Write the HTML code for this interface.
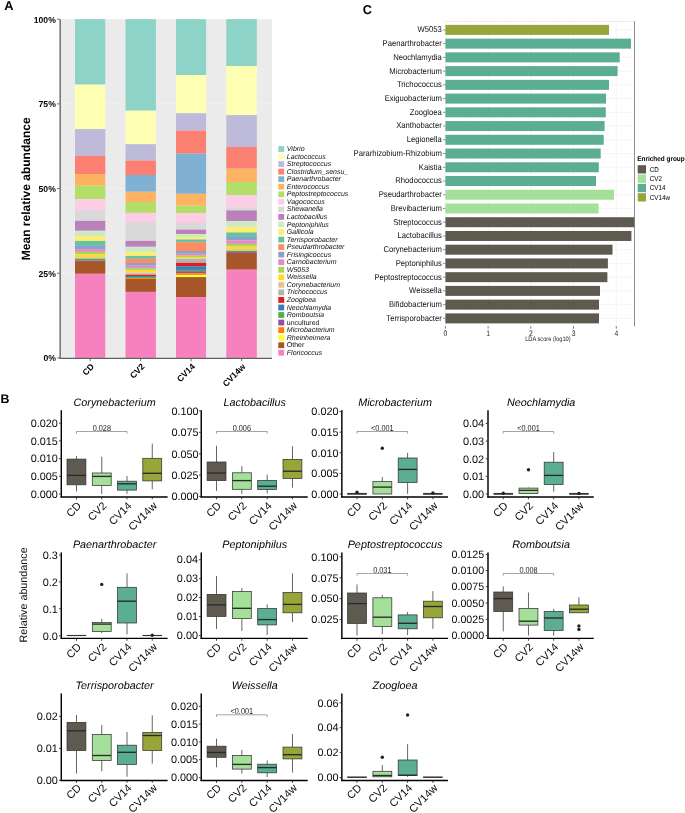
<!DOCTYPE html>
<html lang="en">
<head>
<meta charset="utf-8">
<title>Figure</title>
<style>
html,body{margin:0;padding:0;background:#fff;}
body{width:685px;height:813px;overflow:hidden;font-family:"Liberation Sans", sans-serif;}
svg{display:block;}
text{text-rendering:geometricPrecision;}
</style>
</head>
<body>
<svg width="685" height="813" viewBox="0 0 685 813">
<rect x="0" y="0" width="685" height="813" fill="#FFFFFF"/>
<g id="panelA">
<rect x="60.6" y="19.2" width="211.4" height="338.7" fill="#EBEBEB"/>
<line x1="60.6" x2="272.0" y1="315.56" y2="315.56" stroke="#EEEEEE" stroke-width="0.6"/>
<line x1="60.6" x2="272.0" y1="273.22" y2="273.22" stroke="#F2F2F2" stroke-width="1.0"/>
<line x1="60.6" x2="272.0" y1="230.89" y2="230.89" stroke="#EEEEEE" stroke-width="0.6"/>
<line x1="60.6" x2="272.0" y1="188.55" y2="188.55" stroke="#F2F2F2" stroke-width="1.0"/>
<line x1="60.6" x2="272.0" y1="146.21" y2="146.21" stroke="#EEEEEE" stroke-width="0.6"/>
<line x1="60.6" x2="272.0" y1="103.88" y2="103.88" stroke="#F2F2F2" stroke-width="1.0"/>
<line x1="60.6" x2="272.0" y1="61.54" y2="61.54" stroke="#EEEEEE" stroke-width="0.6"/>
<rect x="75.0" y="19.20" width="30.3" height="65.40" fill="#8DD3C7"/>
<rect x="75.0" y="84.60" width="30.3" height="44.50" fill="#FFFFB3"/>
<rect x="75.0" y="129.10" width="30.3" height="26.80" fill="#BEBADA"/>
<rect x="75.0" y="155.90" width="30.3" height="18.10" fill="#FB8072"/>
<rect x="75.0" y="174.00" width="30.3" height="11.70" fill="#FDB462"/>
<rect x="75.0" y="185.70" width="30.3" height="13.50" fill="#B3DE69"/>
<rect x="75.0" y="199.20" width="30.3" height="10.80" fill="#FCCDE5"/>
<rect x="75.0" y="210.00" width="30.3" height="10.90" fill="#D9D9D9"/>
<rect x="75.0" y="220.90" width="30.3" height="9.90" fill="#BC80BD"/>
<rect x="75.0" y="230.80" width="30.3" height="5.50" fill="#CCEBC5"/>
<rect x="75.0" y="236.30" width="30.3" height="4.60" fill="#FFED6F"/>
<rect x="75.0" y="240.90" width="30.3" height="5.00" fill="#66C2A5"/>
<rect x="75.0" y="245.90" width="30.3" height="3.20" fill="#8DA0CB"/>
<rect x="75.0" y="249.10" width="30.3" height="2.80" fill="#E78AC3"/>
<rect x="75.0" y="251.90" width="30.3" height="2.40" fill="#A6D854"/>
<rect x="75.0" y="254.30" width="30.3" height="2.90" fill="#FFD92F"/>
<rect x="75.0" y="257.20" width="30.3" height="1.50" fill="#E5C494"/>
<rect x="75.0" y="258.70" width="30.3" height="1.70" fill="#4DAF4A"/>
<rect x="75.0" y="260.40" width="30.3" height="0.70" fill="#984EA3"/>
<rect x="75.0" y="261.10" width="30.3" height="12.70" fill="#A65628"/>
<rect x="75.0" y="273.80" width="30.3" height="84.10" fill="#F781BF"/>
<rect x="125.5" y="19.20" width="30.4" height="91.50" fill="#8DD3C7"/>
<rect x="125.5" y="110.70" width="30.4" height="33.50" fill="#FFFFB3"/>
<rect x="125.5" y="144.20" width="30.4" height="16.30" fill="#BEBADA"/>
<rect x="125.5" y="160.50" width="30.4" height="14.50" fill="#FB8072"/>
<rect x="125.5" y="175.00" width="30.4" height="16.80" fill="#80B1D3"/>
<rect x="125.5" y="191.80" width="30.4" height="10.20" fill="#FDB462"/>
<rect x="125.5" y="202.00" width="30.4" height="10.90" fill="#B3DE69"/>
<rect x="125.5" y="212.90" width="30.4" height="9.20" fill="#FCCDE5"/>
<rect x="125.5" y="222.10" width="30.4" height="18.80" fill="#D9D9D9"/>
<rect x="125.5" y="240.90" width="30.4" height="5.90" fill="#BC80BD"/>
<rect x="125.5" y="246.80" width="30.4" height="5.20" fill="#CCEBC5"/>
<rect x="125.5" y="252.00" width="30.4" height="3.90" fill="#FFED6F"/>
<rect x="125.5" y="255.90" width="30.4" height="2.90" fill="#66C2A5"/>
<rect x="125.5" y="258.80" width="30.4" height="4.20" fill="#FC8D62"/>
<rect x="125.5" y="263.00" width="30.4" height="2.70" fill="#8DA0CB"/>
<rect x="125.5" y="265.70" width="30.4" height="2.50" fill="#E78AC3"/>
<rect x="125.5" y="268.20" width="30.4" height="2.00" fill="#A6D854"/>
<rect x="125.5" y="270.20" width="30.4" height="2.20" fill="#FFD92F"/>
<rect x="125.5" y="272.40" width="30.4" height="1.20" fill="#E5C494"/>
<rect x="125.5" y="273.60" width="30.4" height="1.20" fill="#B3B3B3"/>
<rect x="125.5" y="274.80" width="30.4" height="1.30" fill="#E41A1C"/>
<rect x="125.5" y="276.10" width="30.4" height="0.90" fill="#377EB8"/>
<rect x="125.5" y="277.00" width="30.4" height="1.10" fill="#4DAF4A"/>
<rect x="125.5" y="278.10" width="30.4" height="0.90" fill="#FF7F00"/>
<rect x="125.5" y="279.00" width="30.4" height="12.90" fill="#A65628"/>
<rect x="125.5" y="291.90" width="30.4" height="66.00" fill="#F781BF"/>
<rect x="176.0" y="19.20" width="30.1" height="55.80" fill="#8DD3C7"/>
<rect x="176.0" y="75.00" width="30.1" height="38.20" fill="#FFFFB3"/>
<rect x="176.0" y="113.20" width="30.1" height="17.30" fill="#BEBADA"/>
<rect x="176.0" y="130.50" width="30.1" height="23.10" fill="#FB8072"/>
<rect x="176.0" y="153.60" width="30.1" height="40.20" fill="#80B1D3"/>
<rect x="176.0" y="193.80" width="30.1" height="12.00" fill="#FDB462"/>
<rect x="176.0" y="205.80" width="30.1" height="7.40" fill="#B3DE69"/>
<rect x="176.0" y="213.20" width="30.1" height="9.80" fill="#FCCDE5"/>
<rect x="176.0" y="223.00" width="30.1" height="6.60" fill="#D9D9D9"/>
<rect x="176.0" y="229.60" width="30.1" height="4.40" fill="#BC80BD"/>
<rect x="176.0" y="234.00" width="30.1" height="3.00" fill="#CCEBC5"/>
<rect x="176.0" y="237.00" width="30.1" height="2.50" fill="#FFED6F"/>
<rect x="176.0" y="239.50" width="30.1" height="2.70" fill="#66C2A5"/>
<rect x="176.0" y="242.20" width="30.1" height="8.80" fill="#FC8D62"/>
<rect x="176.0" y="251.00" width="30.1" height="2.80" fill="#8DA0CB"/>
<rect x="176.0" y="253.80" width="30.1" height="1.90" fill="#E78AC3"/>
<rect x="176.0" y="255.70" width="30.1" height="1.30" fill="#A6D854"/>
<rect x="176.0" y="257.00" width="30.1" height="1.30" fill="#FFD92F"/>
<rect x="176.0" y="258.30" width="30.1" height="0.70" fill="#E5C494"/>
<rect x="176.0" y="259.00" width="30.1" height="3.80" fill="#B3B3B3"/>
<rect x="176.0" y="262.80" width="30.1" height="3.40" fill="#E41A1C"/>
<rect x="176.0" y="266.20" width="30.1" height="3.70" fill="#377EB8"/>
<rect x="176.0" y="269.90" width="30.1" height="1.30" fill="#4DAF4A"/>
<rect x="176.0" y="271.20" width="30.1" height="1.90" fill="#984EA3"/>
<rect x="176.0" y="273.10" width="30.1" height="1.80" fill="#FF7F00"/>
<rect x="176.0" y="274.90" width="30.1" height="2.20" fill="#FFFF33"/>
<rect x="176.0" y="277.10" width="30.1" height="20.00" fill="#A65628"/>
<rect x="176.0" y="297.10" width="30.1" height="60.80" fill="#F781BF"/>
<rect x="226.3" y="19.20" width="30.5" height="46.80" fill="#8DD3C7"/>
<rect x="226.3" y="66.00" width="30.5" height="49.10" fill="#FFFFB3"/>
<rect x="226.3" y="115.10" width="30.5" height="31.90" fill="#BEBADA"/>
<rect x="226.3" y="147.00" width="30.5" height="21.70" fill="#FB8072"/>
<rect x="226.3" y="168.70" width="30.5" height="13.30" fill="#FDB462"/>
<rect x="226.3" y="182.00" width="30.5" height="13.20" fill="#B3DE69"/>
<rect x="226.3" y="195.20" width="30.5" height="12.00" fill="#FCCDE5"/>
<rect x="226.3" y="207.20" width="30.5" height="3.20" fill="#D9D9D9"/>
<rect x="226.3" y="210.40" width="30.5" height="10.70" fill="#BC80BD"/>
<rect x="226.3" y="221.10" width="30.5" height="5.90" fill="#CCEBC5"/>
<rect x="226.3" y="227.00" width="30.5" height="5.50" fill="#FFED6F"/>
<rect x="226.3" y="232.50" width="30.5" height="4.50" fill="#66C2A5"/>
<rect x="226.3" y="237.00" width="30.5" height="3.30" fill="#8DA0CB"/>
<rect x="226.3" y="240.30" width="30.5" height="3.60" fill="#E78AC3"/>
<rect x="226.3" y="243.90" width="30.5" height="2.60" fill="#A6D854"/>
<rect x="226.3" y="246.50" width="30.5" height="2.60" fill="#FFD92F"/>
<rect x="226.3" y="249.10" width="30.5" height="1.80" fill="#E5C494"/>
<rect x="226.3" y="250.90" width="30.5" height="1.20" fill="#4DAF4A"/>
<rect x="226.3" y="252.10" width="30.5" height="0.90" fill="#984EA3"/>
<rect x="226.3" y="253.00" width="30.5" height="16.70" fill="#A65628"/>
<rect x="226.3" y="269.70" width="30.5" height="88.20" fill="#F781BF"/>
<line x1="60.15" x2="60.15" y1="19.2" y2="358.9" stroke="#6A6A6A" stroke-width="1.45"/>
<line x1="59.5" x2="272.0" y1="358.34999999999997" y2="358.34999999999997" stroke="#606060" stroke-width="1.25"/>
<g font-family='"Liberation Sans", sans-serif' font-weight="bold" font-size="8.6" fill="#000" text-anchor="end">
<clipPath id="clipA"><rect x="0" y="17" width="685" height="400"/></clipPath>
<line x1="57.1" x2="59.6" y1="357.90" y2="357.90" stroke="#5A5A5A" stroke-width="0.9"/>
<text x="55.8" y="361.40">0%</text>
<line x1="57.1" x2="59.6" y1="273.22" y2="273.22" stroke="#5A5A5A" stroke-width="0.9"/>
<text x="55.8" y="276.72">25%</text>
<line x1="57.1" x2="59.6" y1="188.55" y2="188.55" stroke="#5A5A5A" stroke-width="0.9"/>
<text x="55.8" y="192.05">50%</text>
<line x1="57.1" x2="59.6" y1="103.88" y2="103.88" stroke="#5A5A5A" stroke-width="0.9"/>
<text x="55.8" y="107.38">75%</text>
<line x1="57.1" x2="59.6" y1="19.20" y2="19.20" stroke="#5A5A5A" stroke-width="0.9"/>
<text x="55.8" y="22.70" clip-path="url(#clipA)">100%</text>
</g>
<g font-family='"Liberation Sans", sans-serif' font-weight="bold" font-size="8.6" fill="#000" text-anchor="end">
<line x1="90.2" x2="90.2" y1="358.7" y2="361.09999999999997" stroke="#5A5A5A" stroke-width="0.9"/>
<text transform="translate(94.7,367.2) rotate(-45)">CD</text>
<line x1="140.7" x2="140.7" y1="358.7" y2="361.09999999999997" stroke="#5A5A5A" stroke-width="0.9"/>
<text transform="translate(145.2,367.2) rotate(-45)">CV2</text>
<line x1="191.1" x2="191.1" y1="358.7" y2="361.09999999999997" stroke="#5A5A5A" stroke-width="0.9"/>
<text transform="translate(195.6,367.2) rotate(-45)">CV14</text>
<line x1="241.6" x2="241.6" y1="358.7" y2="361.09999999999997" stroke="#5A5A5A" stroke-width="0.9"/>
<text transform="translate(246.1,367.2) rotate(-45)">CV14w</text>
</g>
<text transform="translate(30.2,188.8) rotate(-90)" font-family='"Liberation Sans", sans-serif' font-weight="bold" font-size="12" fill="#000" text-anchor="middle">Mean relative abundance</text>
<g font-family='"Liberation Sans", sans-serif' font-size="7" fill="#111">
<rect x="278.3" y="146.10" width="5.9" height="5.8" fill="#8DD3C7"/>
<text x="286.8" y="151.05" font-style="italic">Vibrio</text>
<rect x="278.3" y="153.65" width="5.9" height="5.8" fill="#FFFFB3"/>
<text x="286.8" y="158.60" font-style="italic">Lactococcus</text>
<rect x="278.3" y="161.19" width="5.9" height="5.8" fill="#BEBADA"/>
<text x="286.8" y="166.14" font-style="italic">Streptococcus</text>
<rect x="278.3" y="168.74" width="5.9" height="5.8" fill="#FB8072"/>
<text x="286.8" y="173.69" font-style="italic">Clostridium_sensu_</text>
<rect x="278.3" y="176.28" width="5.9" height="5.8" fill="#80B1D3"/>
<text x="286.8" y="181.23" font-style="italic">Paenarthrobacter</text>
<rect x="278.3" y="183.83" width="5.9" height="5.8" fill="#FDB462"/>
<text x="286.8" y="188.78" font-style="italic">Enterococcus</text>
<rect x="278.3" y="191.38" width="5.9" height="5.8" fill="#B3DE69"/>
<text x="286.8" y="196.33" font-style="italic">Peptostreptococcus</text>
<rect x="278.3" y="198.92" width="5.9" height="5.8" fill="#FCCDE5"/>
<text x="286.8" y="203.87" font-style="italic">Vagococcus</text>
<rect x="278.3" y="206.47" width="5.9" height="5.8" fill="#D9D9D9"/>
<text x="286.8" y="211.42" font-style="italic">Shewanella</text>
<rect x="278.3" y="214.01" width="5.9" height="5.8" fill="#BC80BD"/>
<text x="286.8" y="218.96" font-style="italic">Lactobacillus</text>
<rect x="278.3" y="221.56" width="5.9" height="5.8" fill="#CCEBC5"/>
<text x="286.8" y="226.51" font-style="italic">Peptoniphilus</text>
<rect x="278.3" y="229.11" width="5.9" height="5.8" fill="#FFED6F"/>
<text x="286.8" y="234.06" font-style="italic">Gallicola</text>
<rect x="278.3" y="236.65" width="5.9" height="5.8" fill="#66C2A5"/>
<text x="286.8" y="241.60" font-style="italic">Terrisporobacter</text>
<rect x="278.3" y="244.20" width="5.9" height="5.8" fill="#FC8D62"/>
<text x="286.8" y="249.15" font-style="italic">Pseudarthrobacter</text>
<rect x="278.3" y="251.74" width="5.9" height="5.8" fill="#8DA0CB"/>
<text x="286.8" y="256.69" font-style="italic">Frisingicoccus</text>
<rect x="278.3" y="259.29" width="5.9" height="5.8" fill="#E78AC3"/>
<text x="286.8" y="264.24" font-style="italic">Carnobacterium</text>
<rect x="278.3" y="266.84" width="5.9" height="5.8" fill="#A6D854"/>
<text x="286.8" y="271.79" font-style="italic">W5053</text>
<rect x="278.3" y="274.38" width="5.9" height="5.8" fill="#FFD92F"/>
<text x="286.8" y="279.33" font-style="italic">Weissella</text>
<rect x="278.3" y="281.93" width="5.9" height="5.8" fill="#E5C494"/>
<text x="286.8" y="286.88" font-style="italic">Corynebacterium</text>
<rect x="278.3" y="289.47" width="5.9" height="5.8" fill="#B3B3B3"/>
<text x="286.8" y="294.42" font-style="italic">Trichococcus</text>
<rect x="278.3" y="297.02" width="5.9" height="5.8" fill="#E41A1C"/>
<text x="286.8" y="301.97" font-style="italic">Zoogloea</text>
<rect x="278.3" y="304.57" width="5.9" height="5.8" fill="#377EB8"/>
<text x="286.8" y="309.52" font-style="italic">Neochlamydia</text>
<rect x="278.3" y="312.11" width="5.9" height="5.8" fill="#4DAF4A"/>
<text x="286.8" y="317.06" font-style="italic">Romboutsia</text>
<rect x="278.3" y="319.66" width="5.9" height="5.8" fill="#984EA3"/>
<text x="286.8" y="324.61">uncultured</text>
<rect x="278.3" y="327.20" width="5.9" height="5.8" fill="#FF7F00"/>
<text x="286.8" y="332.15" font-style="italic">Microbacterium</text>
<rect x="278.3" y="334.75" width="5.9" height="5.8" fill="#FFFF33"/>
<text x="286.8" y="339.70" font-style="italic">Rheinheimera</text>
<rect x="278.3" y="342.30" width="5.9" height="5.8" fill="#A65628"/>
<text x="286.8" y="347.25">Other</text>
<rect x="278.3" y="349.84" width="5.9" height="5.8" fill="#F781BF"/>
<text x="286.8" y="354.79" font-style="italic">Floricoccus</text>
</g>
<text x="4.2" y="10.1" font-family='"Liberation Sans", sans-serif' font-weight="bold" font-size="12.8" fill="#000">A</text>
</g>
<g id="panelC">
<line x1="445.40" x2="445.40" y1="21.4" y2="326.3" stroke="#EBEBEB" stroke-width="0.6"/>
<line x1="466.76" x2="466.76" y1="21.4" y2="326.3" stroke="#F3F3F3" stroke-width="0.4"/>
<line x1="488.12" x2="488.12" y1="21.4" y2="326.3" stroke="#EBEBEB" stroke-width="0.6"/>
<line x1="509.48" x2="509.48" y1="21.4" y2="326.3" stroke="#F3F3F3" stroke-width="0.4"/>
<line x1="530.84" x2="530.84" y1="21.4" y2="326.3" stroke="#EBEBEB" stroke-width="0.6"/>
<line x1="552.20" x2="552.20" y1="21.4" y2="326.3" stroke="#F3F3F3" stroke-width="0.4"/>
<line x1="573.56" x2="573.56" y1="21.4" y2="326.3" stroke="#EBEBEB" stroke-width="0.6"/>
<line x1="594.92" x2="594.92" y1="21.4" y2="326.3" stroke="#F3F3F3" stroke-width="0.4"/>
<line x1="616.28" x2="616.28" y1="21.4" y2="326.3" stroke="#EBEBEB" stroke-width="0.6"/>
<line x1="445.4" x2="634.5" y1="29.90" y2="29.90" stroke="#EEEEEE" stroke-width="0.6"/>
<line x1="445.4" x2="634.5" y1="43.64" y2="43.64" stroke="#EEEEEE" stroke-width="0.6"/>
<line x1="445.4" x2="634.5" y1="57.37" y2="57.37" stroke="#EEEEEE" stroke-width="0.6"/>
<line x1="445.4" x2="634.5" y1="71.11" y2="71.11" stroke="#EEEEEE" stroke-width="0.6"/>
<line x1="445.4" x2="634.5" y1="84.85" y2="84.85" stroke="#EEEEEE" stroke-width="0.6"/>
<line x1="445.4" x2="634.5" y1="98.59" y2="98.59" stroke="#EEEEEE" stroke-width="0.6"/>
<line x1="445.4" x2="634.5" y1="112.32" y2="112.32" stroke="#EEEEEE" stroke-width="0.6"/>
<line x1="445.4" x2="634.5" y1="126.06" y2="126.06" stroke="#EEEEEE" stroke-width="0.6"/>
<line x1="445.4" x2="634.5" y1="139.80" y2="139.80" stroke="#EEEEEE" stroke-width="0.6"/>
<line x1="445.4" x2="634.5" y1="153.53" y2="153.53" stroke="#EEEEEE" stroke-width="0.6"/>
<line x1="445.4" x2="634.5" y1="167.27" y2="167.27" stroke="#EEEEEE" stroke-width="0.6"/>
<line x1="445.4" x2="634.5" y1="181.01" y2="181.01" stroke="#EEEEEE" stroke-width="0.6"/>
<line x1="445.4" x2="634.5" y1="194.74" y2="194.74" stroke="#EEEEEE" stroke-width="0.6"/>
<line x1="445.4" x2="634.5" y1="208.48" y2="208.48" stroke="#EEEEEE" stroke-width="0.6"/>
<line x1="445.4" x2="634.5" y1="222.22" y2="222.22" stroke="#EEEEEE" stroke-width="0.6"/>
<line x1="445.4" x2="634.5" y1="235.96" y2="235.96" stroke="#EEEEEE" stroke-width="0.6"/>
<line x1="445.4" x2="634.5" y1="249.69" y2="249.69" stroke="#EEEEEE" stroke-width="0.6"/>
<line x1="445.4" x2="634.5" y1="263.43" y2="263.43" stroke="#EEEEEE" stroke-width="0.6"/>
<line x1="445.4" x2="634.5" y1="277.17" y2="277.17" stroke="#EEEEEE" stroke-width="0.6"/>
<line x1="445.4" x2="634.5" y1="290.90" y2="290.90" stroke="#EEEEEE" stroke-width="0.6"/>
<line x1="445.4" x2="634.5" y1="304.64" y2="304.64" stroke="#EEEEEE" stroke-width="0.6"/>
<line x1="445.4" x2="634.5" y1="318.38" y2="318.38" stroke="#EEEEEE" stroke-width="0.6"/>
<rect x="445.4" y="24.90" width="163.6" height="10" fill="#98A639"/>
<rect x="445.4" y="38.64" width="185.6" height="10" fill="#5BAE91"/>
<rect x="445.4" y="52.37" width="174.3" height="10" fill="#5BAE91"/>
<rect x="445.4" y="66.11" width="172.2" height="10" fill="#5BAE91"/>
<rect x="445.4" y="79.85" width="163.6" height="10" fill="#5BAE91"/>
<rect x="445.4" y="93.59" width="160.6" height="10" fill="#5BAE91"/>
<rect x="445.4" y="107.32" width="160.4" height="10" fill="#5BAE91"/>
<rect x="445.4" y="121.06" width="159.2" height="10" fill="#5BAE91"/>
<rect x="445.4" y="134.80" width="158.3" height="10" fill="#5BAE91"/>
<rect x="445.4" y="148.53" width="155.3" height="10" fill="#5BAE91"/>
<rect x="445.4" y="162.27" width="153.4" height="10" fill="#5BAE91"/>
<rect x="445.4" y="176.01" width="150.6" height="10" fill="#5BAE91"/>
<rect x="445.4" y="189.74" width="168.6" height="10" fill="#A5E09A"/>
<rect x="445.4" y="203.48" width="153.2" height="10" fill="#A5E09A"/>
<rect x="445.4" y="217.22" width="189.6" height="10" fill="#5F5A50"/>
<rect x="445.4" y="230.96" width="186.0" height="10" fill="#5F5A50"/>
<rect x="445.4" y="244.69" width="167.1" height="10" fill="#5F5A50"/>
<rect x="445.4" y="258.43" width="162.5" height="10" fill="#5F5A50"/>
<rect x="445.4" y="272.17" width="162.0" height="10" fill="#5F5A50"/>
<rect x="445.4" y="285.90" width="154.6" height="10" fill="#5F5A50"/>
<rect x="445.4" y="299.64" width="153.6" height="10" fill="#5F5A50"/>
<rect x="445.4" y="313.38" width="153.6" height="10" fill="#5F5A50"/>
<line x1="445.4" x2="634.5" y1="21.4" y2="21.4" stroke="#DADADA" stroke-width="0.6"/>
<line x1="634.5" x2="634.5" y1="21.4" y2="326.3" stroke="#808080" stroke-width="0.9"/>
<g font-family='"Liberation Sans", sans-serif' font-size="7.68" fill="#111" text-anchor="end">
<line x1="442.9" x2="445.4" y1="29.90" y2="29.90" stroke="#4D4D4D" stroke-width="0.6"/>
<text transform="translate(441.8,32.30) scale(1,1.1)">W5053</text>
<line x1="442.9" x2="445.4" y1="43.64" y2="43.64" stroke="#4D4D4D" stroke-width="0.6"/>
<text transform="translate(441.8,46.04) scale(1,1.1)">Paenarthrobacter</text>
<line x1="442.9" x2="445.4" y1="57.37" y2="57.37" stroke="#4D4D4D" stroke-width="0.6"/>
<text transform="translate(441.8,59.77) scale(1,1.1)">Neochlamydia</text>
<line x1="442.9" x2="445.4" y1="71.11" y2="71.11" stroke="#4D4D4D" stroke-width="0.6"/>
<text transform="translate(441.8,73.51) scale(1,1.1)">Microbacterium</text>
<line x1="442.9" x2="445.4" y1="84.85" y2="84.85" stroke="#4D4D4D" stroke-width="0.6"/>
<text transform="translate(441.8,87.25) scale(1,1.1)">Trichococcus</text>
<line x1="442.9" x2="445.4" y1="98.59" y2="98.59" stroke="#4D4D4D" stroke-width="0.6"/>
<text transform="translate(441.8,100.99) scale(1,1.1)">Exiguobacterium</text>
<line x1="442.9" x2="445.4" y1="112.32" y2="112.32" stroke="#4D4D4D" stroke-width="0.6"/>
<text transform="translate(441.8,114.72) scale(1,1.1)">Zoogloea</text>
<line x1="442.9" x2="445.4" y1="126.06" y2="126.06" stroke="#4D4D4D" stroke-width="0.6"/>
<text transform="translate(441.8,128.46) scale(1,1.1)">Xanthobacter</text>
<line x1="442.9" x2="445.4" y1="139.80" y2="139.80" stroke="#4D4D4D" stroke-width="0.6"/>
<text transform="translate(441.8,142.20) scale(1,1.1)">Legionella</text>
<line x1="442.9" x2="445.4" y1="153.53" y2="153.53" stroke="#4D4D4D" stroke-width="0.6"/>
<text transform="translate(441.8,155.93) scale(1,1.1)">Pararhizobium-Rhizobium</text>
<line x1="442.9" x2="445.4" y1="167.27" y2="167.27" stroke="#4D4D4D" stroke-width="0.6"/>
<text transform="translate(441.8,169.67) scale(1,1.1)">Kaistia</text>
<line x1="442.9" x2="445.4" y1="181.01" y2="181.01" stroke="#4D4D4D" stroke-width="0.6"/>
<text transform="translate(441.8,183.41) scale(1,1.1)">Rhodococcus</text>
<line x1="442.9" x2="445.4" y1="194.74" y2="194.74" stroke="#4D4D4D" stroke-width="0.6"/>
<text transform="translate(441.8,197.14) scale(1,1.1)">Pseudarthrobacter</text>
<line x1="442.9" x2="445.4" y1="208.48" y2="208.48" stroke="#4D4D4D" stroke-width="0.6"/>
<text transform="translate(441.8,210.88) scale(1,1.1)">Brevibacterium</text>
<line x1="442.9" x2="445.4" y1="222.22" y2="222.22" stroke="#4D4D4D" stroke-width="0.6"/>
<text transform="translate(441.8,224.62) scale(1,1.1)">Streptococcus</text>
<line x1="442.9" x2="445.4" y1="235.96" y2="235.96" stroke="#4D4D4D" stroke-width="0.6"/>
<text transform="translate(441.8,238.36) scale(1,1.1)">Lactobacillus</text>
<line x1="442.9" x2="445.4" y1="249.69" y2="249.69" stroke="#4D4D4D" stroke-width="0.6"/>
<text transform="translate(441.8,252.09) scale(1,1.1)">Corynebacterium</text>
<line x1="442.9" x2="445.4" y1="263.43" y2="263.43" stroke="#4D4D4D" stroke-width="0.6"/>
<text transform="translate(441.8,265.83) scale(1,1.1)">Peptoniphilus</text>
<line x1="442.9" x2="445.4" y1="277.17" y2="277.17" stroke="#4D4D4D" stroke-width="0.6"/>
<text transform="translate(441.8,279.57) scale(1,1.1)">Peptostreptococcus</text>
<line x1="442.9" x2="445.4" y1="290.90" y2="290.90" stroke="#4D4D4D" stroke-width="0.6"/>
<text transform="translate(441.8,293.30) scale(1,1.1)">Weissella</text>
<line x1="442.9" x2="445.4" y1="304.64" y2="304.64" stroke="#4D4D4D" stroke-width="0.6"/>
<text transform="translate(441.8,307.04) scale(1,1.1)">Bifidobacterium</text>
<line x1="442.9" x2="445.4" y1="318.38" y2="318.38" stroke="#4D4D4D" stroke-width="0.6"/>
<text transform="translate(441.8,320.78) scale(1,1.1)">Terrisporobacter</text>
</g>
<g font-family='"Liberation Sans", sans-serif' font-size="6.8" fill="#2A2A2A" text-anchor="middle">
<line x1="445.40" x2="445.40" y1="326.3" y2="328.6" stroke="#333" stroke-width="0.7"/>
<text transform="translate(445.40,335.90) scale(1,1.2)">0</text>
<line x1="488.12" x2="488.12" y1="326.3" y2="328.6" stroke="#333" stroke-width="0.7"/>
<text transform="translate(488.12,335.90) scale(1,1.2)">1</text>
<line x1="530.84" x2="530.84" y1="326.3" y2="328.6" stroke="#333" stroke-width="0.7"/>
<text transform="translate(530.84,335.90) scale(1,1.2)">2</text>
<line x1="573.56" x2="573.56" y1="326.3" y2="328.6" stroke="#333" stroke-width="0.7"/>
<text transform="translate(573.56,335.90) scale(1,1.2)">3</text>
<line x1="616.28" x2="616.28" y1="326.3" y2="328.6" stroke="#333" stroke-width="0.7"/>
<text transform="translate(616.28,335.90) scale(1,1.2)">4</text>
</g>
<text transform="translate(547.9,341.4) scale(1,1.13)" font-family='"Liberation Sans", sans-serif' font-size="5.7" fill="#222" text-anchor="middle">LDA score (log10)</text>
<text transform="translate(637.3,161.2) scale(1,1.1)" font-family='"Liberation Sans", sans-serif' font-size="6.42" font-weight="bold" fill="#000">Enriched group</text>
<g font-family='"Liberation Sans", sans-serif' font-size="6.3" fill="#000">
<rect x="637.7" y="165.20" width="8.3" height="8.3" fill="#5F5A50"/>
<text transform="translate(649.8,171.70) scale(1,1.13)">CD</text>
<rect x="637.7" y="174.53" width="8.3" height="8.3" fill="#A5E09A"/>
<text transform="translate(649.8,181.03) scale(1,1.13)">CV2</text>
<rect x="637.7" y="183.86" width="8.3" height="8.3" fill="#5BAE91"/>
<text transform="translate(649.8,190.36) scale(1,1.13)">CV14</text>
<rect x="637.7" y="193.19" width="8.3" height="8.3" fill="#98A639"/>
<text transform="translate(649.8,199.69) scale(1,1.13)">CV14w</text>
</g>
<text x="362.8" y="14.3" font-family='"Liberation Sans", sans-serif' font-weight="bold" font-size="12.8" fill="#000">C</text>
</g>
<g id="panelB">
<text x="0.5" y="402.6" font-family='"Liberation Sans", sans-serif' font-weight="bold" font-size="12.4" fill="#000">B</text>
<text transform="translate(26.6,594.9) rotate(-90)" font-family='"Liberation Sans", sans-serif' font-size="10.75" fill="#111" text-anchor="middle">Relative abundance</text>
<g>
<text x="114.6" y="405.8" font-family='"Liberation Sans", sans-serif' font-style="italic" font-size="10.8" fill="#000" text-anchor="middle">Corynebacterium</text>
<line x1="76.50" x2="76.50" y1="456.2" y2="459.1" stroke="#333" stroke-width="0.75"/>
<line x1="76.50" x2="76.50" y1="484.8" y2="491.4" stroke="#333" stroke-width="0.75"/>
<rect x="67.0" y="459.1" width="18.9" height="25.7" fill="#5F5A50" stroke="#333" stroke-width="0.75"/>
<line x1="67.0" x2="86.0" y1="475.4" y2="475.4" stroke="#2A2A2A" stroke-width="1.35"/>
<line x1="101.75" x2="101.75" y1="456.7" y2="473.0" stroke="#333" stroke-width="0.75"/>
<line x1="101.75" x2="101.75" y1="485.4" y2="494.0" stroke="#333" stroke-width="0.75"/>
<rect x="92.3" y="473.0" width="18.9" height="12.4" fill="#A5E09A" stroke="#333" stroke-width="0.75"/>
<line x1="92.3" x2="111.2" y1="476.4" y2="476.4" stroke="#2A2A2A" stroke-width="1.35"/>
<line x1="127.00" x2="127.00" y1="475.9" y2="481.2" stroke="#333" stroke-width="0.75"/>
<line x1="127.00" x2="127.00" y1="490.1" y2="493.8" stroke="#333" stroke-width="0.75"/>
<rect x="117.5" y="481.2" width="18.9" height="8.9" fill="#5BAE91" stroke="#333" stroke-width="0.75"/>
<line x1="117.5" x2="136.4" y1="483.8" y2="483.8" stroke="#2A2A2A" stroke-width="1.35"/>
<line x1="152.25" x2="152.25" y1="443.6" y2="458.3" stroke="#333" stroke-width="0.75"/>
<line x1="152.25" x2="152.25" y1="480.9" y2="489.3" stroke="#333" stroke-width="0.75"/>
<rect x="142.8" y="458.3" width="18.9" height="22.6" fill="#98A639" stroke="#333" stroke-width="0.75"/>
<line x1="142.8" x2="161.7" y1="473.3" y2="473.3" stroke="#2A2A2A" stroke-width="1.35"/>
<path d="M76.5,433.7 V431.5 H127.0 V433.7" fill="none" stroke="#4A4A4A" stroke-width="0.5"/>
<text transform="translate(101.8,430.7) scale(1,1.18)" font-family='"Liberation Sans", sans-serif' font-size="7.3" fill="#222" text-anchor="middle">0.028</text>
<line x1="61.3" x2="61.3" y1="410.2" y2="497.59999999999997" stroke="#000" stroke-width="1.45"/>
<line x1="60.599999999999994" x2="167.6" y1="496.9" y2="496.9" stroke="#000" stroke-width="1.45"/>
<g font-family='"Liberation Sans", sans-serif' font-size="10.9" fill="#0A0A0A" text-anchor="end">
<line x1="59.00" x2="60.80" y1="494.0" y2="494.0" stroke="#111" stroke-width="0.8"/>
<text x="57.90" y="497.7">0.000</text>
<line x1="59.00" x2="60.80" y1="476.3" y2="476.3" stroke="#111" stroke-width="0.8"/>
<text x="57.90" y="480.0">0.005</text>
<line x1="59.00" x2="60.80" y1="458.6" y2="458.6" stroke="#111" stroke-width="0.8"/>
<text x="57.90" y="462.3">0.010</text>
<line x1="59.00" x2="60.80" y1="440.8" y2="440.8" stroke="#111" stroke-width="0.8"/>
<text x="57.90" y="444.5">0.015</text>
<line x1="59.00" x2="60.80" y1="423.1" y2="423.1" stroke="#111" stroke-width="0.8"/>
<text x="57.90" y="426.8">0.020</text>
<line x1="76.50" x2="76.50" y1="497.4" y2="499.29999999999995" stroke="#111" stroke-width="0.8"/>
<text transform="translate(81.9,506.5) rotate(-45)">CD</text>
<line x1="101.75" x2="101.75" y1="497.4" y2="499.29999999999995" stroke="#111" stroke-width="0.8"/>
<text transform="translate(107.2,506.5) rotate(-45)">CV2</text>
<line x1="127.00" x2="127.00" y1="497.4" y2="499.29999999999995" stroke="#111" stroke-width="0.8"/>
<text transform="translate(132.4,506.5) rotate(-45)">CV14</text>
<line x1="152.25" x2="152.25" y1="497.4" y2="499.29999999999995" stroke="#111" stroke-width="0.8"/>
<text transform="translate(157.7,506.5) rotate(-45)">CV14w</text>
</g>
</g>
<g>
<text x="254.7" y="405.8" font-family='"Liberation Sans", sans-serif' font-style="italic" font-size="10.8" fill="#000" text-anchor="middle">Lactobacillus</text>
<line x1="216.50" x2="216.50" y1="445.7" y2="462.0" stroke="#333" stroke-width="0.75"/>
<line x1="216.50" x2="216.50" y1="480.6" y2="490.9" stroke="#333" stroke-width="0.75"/>
<rect x="207.1" y="462.0" width="18.9" height="18.6" fill="#5F5A50" stroke="#333" stroke-width="0.75"/>
<line x1="207.1" x2="225.9" y1="473.0" y2="473.0" stroke="#2A2A2A" stroke-width="1.35"/>
<line x1="241.83" x2="241.83" y1="466.2" y2="472.8" stroke="#333" stroke-width="0.75"/>
<line x1="241.83" x2="241.83" y1="489.3" y2="493.8" stroke="#333" stroke-width="0.75"/>
<rect x="232.4" y="472.8" width="18.9" height="16.5" fill="#A5E09A" stroke="#333" stroke-width="0.75"/>
<line x1="232.4" x2="251.3" y1="480.6" y2="480.6" stroke="#2A2A2A" stroke-width="1.35"/>
<line x1="267.16" x2="267.16" y1="474.6" y2="480.4" stroke="#333" stroke-width="0.75"/>
<line x1="267.16" x2="267.16" y1="489.6" y2="493.5" stroke="#333" stroke-width="0.75"/>
<rect x="257.7" y="480.4" width="18.9" height="9.2" fill="#5BAE91" stroke="#333" stroke-width="0.75"/>
<line x1="257.7" x2="276.6" y1="486.2" y2="486.2" stroke="#2A2A2A" stroke-width="1.35"/>
<line x1="292.49" x2="292.49" y1="446.2" y2="459.4" stroke="#333" stroke-width="0.75"/>
<line x1="292.49" x2="292.49" y1="478.5" y2="487.7" stroke="#333" stroke-width="0.75"/>
<rect x="283.0" y="459.4" width="18.9" height="19.1" fill="#98A639" stroke="#333" stroke-width="0.75"/>
<line x1="283.0" x2="301.9" y1="471.2" y2="471.2" stroke="#2A2A2A" stroke-width="1.35"/>
<path d="M216.5,433.7 V431.5 H267.2 V433.7" fill="none" stroke="#4A4A4A" stroke-width="0.5"/>
<text transform="translate(241.8,430.7) scale(1,1.18)" font-family='"Liberation Sans", sans-serif' font-size="7.3" fill="#222" text-anchor="middle">0.006</text>
<line x1="201.25" x2="201.25" y1="410.2" y2="497.59999999999997" stroke="#000" stroke-width="1.45"/>
<line x1="200.55" x2="307.7" y1="496.9" y2="496.9" stroke="#000" stroke-width="1.45"/>
<g font-family='"Liberation Sans", sans-serif' font-size="10.9" fill="#0A0A0A" text-anchor="end">
<line x1="198.95" x2="200.75" y1="496.4" y2="496.4" stroke="#111" stroke-width="0.8"/>
<text x="198.65" y="500.1">0.000</text>
<line x1="198.95" x2="200.75" y1="475.1" y2="475.1" stroke="#111" stroke-width="0.8"/>
<text x="198.65" y="478.8">0.025</text>
<line x1="198.95" x2="200.75" y1="453.8" y2="453.8" stroke="#111" stroke-width="0.8"/>
<text x="198.65" y="457.5">0.050</text>
<line x1="198.95" x2="200.75" y1="432.3" y2="432.3" stroke="#111" stroke-width="0.8"/>
<text x="198.65" y="436.0">0.075</text>
<line x1="198.95" x2="200.75" y1="410.8" y2="410.8" stroke="#111" stroke-width="0.8"/>
<text x="198.65" y="414.5">0.100</text>
<line x1="216.50" x2="216.50" y1="497.4" y2="499.29999999999995" stroke="#111" stroke-width="0.8"/>
<text transform="translate(221.9,506.5) rotate(-45)">CD</text>
<line x1="241.83" x2="241.83" y1="497.4" y2="499.29999999999995" stroke="#111" stroke-width="0.8"/>
<text transform="translate(247.2,506.5) rotate(-45)">CV2</text>
<line x1="267.16" x2="267.16" y1="497.4" y2="499.29999999999995" stroke="#111" stroke-width="0.8"/>
<text transform="translate(272.6,506.5) rotate(-45)">CV14</text>
<line x1="292.49" x2="292.49" y1="497.4" y2="499.29999999999995" stroke="#111" stroke-width="0.8"/>
<text transform="translate(297.9,506.5) rotate(-45)">CV14w</text>
</g>
</g>
<g>
<text x="395.1" y="405.8" font-family='"Liberation Sans", sans-serif' font-style="italic" font-size="10.8" fill="#000" text-anchor="middle">Microbacterium</text>
<line x1="347.2" x2="366.8" y1="493.85" y2="493.85" stroke="#333" stroke-width="1.8"/>
<line x1="382.30" x2="382.30" y1="477.0" y2="481.6" stroke="#333" stroke-width="0.75"/>
<line x1="382.30" x2="382.30" y1="494.0" y2="494.0" stroke="#333" stroke-width="0.75"/>
<rect x="372.9" y="481.6" width="18.9" height="12.4" fill="#A5E09A" stroke="#333" stroke-width="0.75"/>
<line x1="372.9" x2="391.8" y1="487.1" y2="487.1" stroke="#2A2A2A" stroke-width="1.35"/>
<line x1="407.60" x2="407.60" y1="452.8" y2="458.0" stroke="#333" stroke-width="0.75"/>
<line x1="407.60" x2="407.60" y1="482.5" y2="493.8" stroke="#333" stroke-width="0.75"/>
<rect x="398.2" y="458.0" width="18.9" height="24.5" fill="#5BAE91" stroke="#333" stroke-width="0.75"/>
<line x1="398.2" x2="417.1" y1="469.4" y2="469.4" stroke="#2A2A2A" stroke-width="1.35"/>
<line x1="423.1" x2="442.6" y1="493.85" y2="493.85" stroke="#333" stroke-width="1.8"/>
<circle cx="357.00" cy="492.2" r="1.7" fill="#222"/>
<circle cx="382.30" cy="448.3" r="1.7" fill="#222"/>
<circle cx="432.90" cy="493.0" r="1.7" fill="#222"/>
<path d="M357.0,433.7 V431.5 H407.6 V433.7" fill="none" stroke="#4A4A4A" stroke-width="0.5"/>
<text transform="translate(382.3,430.7) scale(1,1.18)" font-family='"Liberation Sans", sans-serif' font-size="7.3" fill="#222" text-anchor="middle">&lt;0.001</text>
<line x1="341.85" x2="341.85" y1="410.2" y2="497.59999999999997" stroke="#000" stroke-width="1.45"/>
<line x1="341.15000000000003" x2="448.0" y1="496.9" y2="496.9" stroke="#000" stroke-width="1.45"/>
<g font-family='"Liberation Sans", sans-serif' font-size="10.9" fill="#0A0A0A" text-anchor="end">
<line x1="339.55" x2="341.35" y1="494.0" y2="494.0" stroke="#111" stroke-width="0.8"/>
<text x="338.60" y="497.7">0.000</text>
<line x1="339.55" x2="341.35" y1="473.4" y2="473.4" stroke="#111" stroke-width="0.8"/>
<text x="338.60" y="477.1">0.005</text>
<line x1="339.55" x2="341.35" y1="452.8" y2="452.8" stroke="#111" stroke-width="0.8"/>
<text x="338.60" y="456.5">0.010</text>
<line x1="339.55" x2="341.35" y1="432.2" y2="432.2" stroke="#111" stroke-width="0.8"/>
<text x="338.60" y="435.9">0.015</text>
<line x1="339.55" x2="341.35" y1="411.5" y2="411.5" stroke="#111" stroke-width="0.8"/>
<text x="338.60" y="415.2">0.020</text>
<line x1="357.00" x2="357.00" y1="497.4" y2="499.29999999999995" stroke="#111" stroke-width="0.8"/>
<text transform="translate(362.4,506.5) rotate(-45)">CD</text>
<line x1="382.30" x2="382.30" y1="497.4" y2="499.29999999999995" stroke="#111" stroke-width="0.8"/>
<text transform="translate(387.7,506.5) rotate(-45)">CV2</text>
<line x1="407.60" x2="407.60" y1="497.4" y2="499.29999999999995" stroke="#111" stroke-width="0.8"/>
<text transform="translate(413.0,506.5) rotate(-45)">CV14</text>
<line x1="432.90" x2="432.90" y1="497.4" y2="499.29999999999995" stroke="#111" stroke-width="0.8"/>
<text transform="translate(438.3,506.5) rotate(-45)">CV14w</text>
</g>
</g>
<g>
<text x="541.1" y="405.8" font-family='"Liberation Sans", sans-serif' font-style="italic" font-size="10.8" fill="#000" text-anchor="middle">Neochlamydia</text>
<line x1="493.5" x2="513.0" y1="493.85" y2="493.85" stroke="#333" stroke-width="1.8"/>
<line x1="528.47" x2="528.47" y1="487.6" y2="488.1" stroke="#333" stroke-width="0.75"/>
<line x1="528.47" x2="528.47" y1="493.6" y2="493.8" stroke="#333" stroke-width="0.75"/>
<rect x="519.0" y="488.1" width="18.9" height="5.5" fill="#A5E09A" stroke="#333" stroke-width="0.75"/>
<line x1="519.0" x2="537.9" y1="490.35" y2="490.35" stroke="#2A2A2A" stroke-width="1.35"/>
<line x1="553.69" x2="553.69" y1="452.0" y2="462.2" stroke="#333" stroke-width="0.75"/>
<line x1="553.69" x2="553.69" y1="484.6" y2="491.7" stroke="#333" stroke-width="0.75"/>
<rect x="544.2" y="462.2" width="18.9" height="22.4" fill="#5BAE91" stroke="#333" stroke-width="0.75"/>
<line x1="544.2" x2="563.1" y1="475.4" y2="475.4" stroke="#2A2A2A" stroke-width="1.35"/>
<line x1="569.2" x2="588.7" y1="493.85" y2="493.85" stroke="#333" stroke-width="1.8"/>
<circle cx="503.25" cy="493.3" r="1.7" fill="#222"/>
<circle cx="528.47" cy="469.7" r="1.7" fill="#222"/>
<circle cx="578.91" cy="493.4" r="1.7" fill="#222"/>
<path d="M503.2,433.7 V431.5 H553.7 V433.7" fill="none" stroke="#4A4A4A" stroke-width="0.5"/>
<text transform="translate(528.5,430.7) scale(1,1.18)" font-family='"Liberation Sans", sans-serif' font-size="7.3" fill="#222" text-anchor="middle">&lt;0.001</text>
<line x1="488.0" x2="488.0" y1="410.2" y2="497.59999999999997" stroke="#000" stroke-width="1.45"/>
<line x1="487.3" x2="593.8" y1="496.9" y2="496.9" stroke="#000" stroke-width="1.45"/>
<g font-family='"Liberation Sans", sans-serif' font-size="10.9" fill="#0A0A0A" text-anchor="end">
<line x1="485.70" x2="487.50" y1="494.0" y2="494.0" stroke="#111" stroke-width="0.8"/>
<text x="484.20" y="497.7">0.00</text>
<line x1="485.70" x2="487.50" y1="476.4" y2="476.4" stroke="#111" stroke-width="0.8"/>
<text x="484.20" y="480.1">0.01</text>
<line x1="485.70" x2="487.50" y1="458.8" y2="458.8" stroke="#111" stroke-width="0.8"/>
<text x="484.20" y="462.5">0.02</text>
<line x1="485.70" x2="487.50" y1="441.1" y2="441.1" stroke="#111" stroke-width="0.8"/>
<text x="484.20" y="444.8">0.03</text>
<line x1="485.70" x2="487.50" y1="423.4" y2="423.4" stroke="#111" stroke-width="0.8"/>
<text x="484.20" y="427.1">0.04</text>
<line x1="503.25" x2="503.25" y1="497.4" y2="499.29999999999995" stroke="#111" stroke-width="0.8"/>
<text transform="translate(508.6,506.5) rotate(-45)">CD</text>
<line x1="528.47" x2="528.47" y1="497.4" y2="499.29999999999995" stroke="#111" stroke-width="0.8"/>
<text transform="translate(533.9,506.5) rotate(-45)">CV2</text>
<line x1="553.69" x2="553.69" y1="497.4" y2="499.29999999999995" stroke="#111" stroke-width="0.8"/>
<text transform="translate(559.1,506.5) rotate(-45)">CV14</text>
<line x1="578.91" x2="578.91" y1="497.4" y2="499.29999999999995" stroke="#111" stroke-width="0.8"/>
<text transform="translate(584.3,506.5) rotate(-45)">CV14w</text>
</g>
</g>
<g>
<text x="114.6" y="547.5" font-family='"Liberation Sans", sans-serif' font-style="italic" font-size="10.8" fill="#000" text-anchor="middle">Paenarthrobacter</text>
<line x1="66.8" x2="86.2" y1="635.5" y2="635.5" stroke="#333" stroke-width="1.15"/>
<line x1="101.75" x2="101.75" y1="618.8" y2="622.5" stroke="#333" stroke-width="0.75"/>
<line x1="101.75" x2="101.75" y1="631.4" y2="633.0" stroke="#333" stroke-width="0.75"/>
<rect x="92.3" y="622.5" width="18.9" height="8.9" fill="#A5E09A" stroke="#333" stroke-width="0.75"/>
<line x1="92.3" x2="111.2" y1="624.1" y2="624.1" stroke="#2A2A2A" stroke-width="1.35"/>
<line x1="127.00" x2="127.00" y1="573.4" y2="587.3" stroke="#333" stroke-width="0.75"/>
<line x1="127.00" x2="127.00" y1="623.0" y2="634.3" stroke="#333" stroke-width="0.75"/>
<rect x="117.5" y="587.3" width="18.9" height="35.7" fill="#5BAE91" stroke="#333" stroke-width="0.75"/>
<line x1="117.5" x2="136.4" y1="601.2" y2="601.2" stroke="#2A2A2A" stroke-width="1.35"/>
<line x1="142.5" x2="162.0" y1="635.5" y2="635.5" stroke="#333" stroke-width="1.15"/>
<circle cx="101.75" cy="584.4" r="1.7" fill="#222"/>
<circle cx="152.25" cy="635.3" r="1.7" fill="#222"/>
<line x1="61.3" x2="61.3" y1="552.4" y2="639.0500000000001" stroke="#000" stroke-width="1.45"/>
<line x1="60.599999999999994" x2="167.6" y1="638.35" y2="638.35" stroke="#000" stroke-width="1.45"/>
<g font-family='"Liberation Sans", sans-serif' font-size="10.9" fill="#0A0A0A" text-anchor="end">
<line x1="59.00" x2="60.80" y1="635.8" y2="635.8" stroke="#111" stroke-width="0.8"/>
<text x="57.90" y="639.5">0.0</text>
<line x1="59.00" x2="60.80" y1="608.8" y2="608.8" stroke="#111" stroke-width="0.8"/>
<text x="57.90" y="612.5">0.1</text>
<line x1="59.00" x2="60.80" y1="581.9" y2="581.9" stroke="#111" stroke-width="0.8"/>
<text x="57.90" y="585.6">0.2</text>
<line x1="59.00" x2="60.80" y1="555.0" y2="555.0" stroke="#111" stroke-width="0.8"/>
<text x="57.90" y="558.7">0.3</text>
<line x1="76.50" x2="76.50" y1="638.85" y2="640.75" stroke="#111" stroke-width="0.8"/>
<text transform="translate(81.9,647.8) rotate(-45)">CD</text>
<line x1="101.75" x2="101.75" y1="638.85" y2="640.75" stroke="#111" stroke-width="0.8"/>
<text transform="translate(107.2,647.8) rotate(-45)">CV2</text>
<line x1="127.00" x2="127.00" y1="638.85" y2="640.75" stroke="#111" stroke-width="0.8"/>
<text transform="translate(132.4,647.8) rotate(-45)">CV14</text>
<line x1="152.25" x2="152.25" y1="638.85" y2="640.75" stroke="#111" stroke-width="0.8"/>
<text transform="translate(157.7,647.8) rotate(-45)">CV14w</text>
</g>
</g>
<g>
<text x="254.7" y="547.5" font-family='"Liberation Sans", sans-serif' font-style="italic" font-size="10.8" fill="#000" text-anchor="middle">Peptoniphilus</text>
<line x1="216.50" x2="216.50" y1="576.0" y2="594.4" stroke="#333" stroke-width="0.75"/>
<line x1="216.50" x2="216.50" y1="616.4" y2="629.0" stroke="#333" stroke-width="0.75"/>
<rect x="207.1" y="594.4" width="18.9" height="22.0" fill="#5F5A50" stroke="#333" stroke-width="0.75"/>
<line x1="207.1" x2="225.9" y1="604.9" y2="604.9" stroke="#2A2A2A" stroke-width="1.35"/>
<line x1="241.83" x2="241.83" y1="588.0" y2="591.5" stroke="#333" stroke-width="0.75"/>
<line x1="241.83" x2="241.83" y1="618.5" y2="630.9" stroke="#333" stroke-width="0.75"/>
<rect x="232.4" y="591.5" width="18.9" height="27.0" fill="#A5E09A" stroke="#333" stroke-width="0.75"/>
<line x1="232.4" x2="251.3" y1="608.3" y2="608.3" stroke="#2A2A2A" stroke-width="1.35"/>
<line x1="267.16" x2="267.16" y1="604.4" y2="608.6" stroke="#333" stroke-width="0.75"/>
<line x1="267.16" x2="267.16" y1="624.9" y2="635.0" stroke="#333" stroke-width="0.75"/>
<rect x="257.7" y="608.6" width="18.9" height="16.3" fill="#5BAE91" stroke="#333" stroke-width="0.75"/>
<line x1="257.7" x2="276.6" y1="619.6" y2="619.6" stroke="#2A2A2A" stroke-width="1.35"/>
<line x1="292.49" x2="292.49" y1="573.4" y2="592.5" stroke="#333" stroke-width="0.75"/>
<line x1="292.49" x2="292.49" y1="612.8" y2="622.0" stroke="#333" stroke-width="0.75"/>
<rect x="283.0" y="592.5" width="18.9" height="20.3" fill="#98A639" stroke="#333" stroke-width="0.75"/>
<line x1="283.0" x2="301.9" y1="604.4" y2="604.4" stroke="#2A2A2A" stroke-width="1.35"/>
<line x1="201.25" x2="201.25" y1="552.4" y2="639.0500000000001" stroke="#000" stroke-width="1.45"/>
<line x1="200.55" x2="307.7" y1="638.35" y2="638.35" stroke="#000" stroke-width="1.45"/>
<g font-family='"Liberation Sans", sans-serif' font-size="10.9" fill="#0A0A0A" text-anchor="end">
<line x1="198.95" x2="200.75" y1="635.6" y2="635.6" stroke="#111" stroke-width="0.8"/>
<text x="198.05" y="639.3">0.00</text>
<line x1="198.95" x2="200.75" y1="616.6" y2="616.6" stroke="#111" stroke-width="0.8"/>
<text x="198.05" y="620.3">0.01</text>
<line x1="198.95" x2="200.75" y1="597.6" y2="597.6" stroke="#111" stroke-width="0.8"/>
<text x="198.05" y="601.3">0.02</text>
<line x1="198.95" x2="200.75" y1="578.6" y2="578.6" stroke="#111" stroke-width="0.8"/>
<text x="198.05" y="582.3">0.03</text>
<line x1="198.95" x2="200.75" y1="559.7" y2="559.7" stroke="#111" stroke-width="0.8"/>
<text x="198.05" y="563.4">0.04</text>
<line x1="216.50" x2="216.50" y1="638.85" y2="640.75" stroke="#111" stroke-width="0.8"/>
<text transform="translate(221.9,647.8) rotate(-45)">CD</text>
<line x1="241.83" x2="241.83" y1="638.85" y2="640.75" stroke="#111" stroke-width="0.8"/>
<text transform="translate(247.2,647.8) rotate(-45)">CV2</text>
<line x1="267.16" x2="267.16" y1="638.85" y2="640.75" stroke="#111" stroke-width="0.8"/>
<text transform="translate(272.6,647.8) rotate(-45)">CV14</text>
<line x1="292.49" x2="292.49" y1="638.85" y2="640.75" stroke="#111" stroke-width="0.8"/>
<text transform="translate(297.9,647.8) rotate(-45)">CV14w</text>
</g>
</g>
<g>
<text x="395.1" y="547.5" font-family='"Liberation Sans", sans-serif' font-style="italic" font-size="10.8" fill="#000" text-anchor="middle">Peptostreptococcus</text>
<line x1="357.00" x2="357.00" y1="584.4" y2="593.0" stroke="#333" stroke-width="0.75"/>
<line x1="357.00" x2="357.00" y1="623.5" y2="635.6" stroke="#333" stroke-width="0.75"/>
<rect x="347.6" y="593.0" width="18.9" height="30.5" fill="#5F5A50" stroke="#333" stroke-width="0.75"/>
<line x1="347.6" x2="366.4" y1="603.6" y2="603.6" stroke="#2A2A2A" stroke-width="1.35"/>
<line x1="382.30" x2="382.30" y1="594.9" y2="597.8" stroke="#333" stroke-width="0.75"/>
<line x1="382.30" x2="382.30" y1="626.4" y2="634.0" stroke="#333" stroke-width="0.75"/>
<rect x="372.9" y="597.8" width="18.9" height="28.6" fill="#A5E09A" stroke="#333" stroke-width="0.75"/>
<line x1="372.9" x2="391.8" y1="617.2" y2="617.2" stroke="#2A2A2A" stroke-width="1.35"/>
<line x1="407.60" x2="407.60" y1="612.0" y2="614.9" stroke="#333" stroke-width="0.75"/>
<line x1="407.60" x2="407.60" y1="628.8" y2="635.1" stroke="#333" stroke-width="0.75"/>
<rect x="398.2" y="614.9" width="18.9" height="13.9" fill="#5BAE91" stroke="#333" stroke-width="0.75"/>
<line x1="398.2" x2="417.1" y1="623.3" y2="623.3" stroke="#2A2A2A" stroke-width="1.35"/>
<line x1="432.90" x2="432.90" y1="591.2" y2="601.2" stroke="#333" stroke-width="0.75"/>
<line x1="432.90" x2="432.90" y1="617.8" y2="628.8" stroke="#333" stroke-width="0.75"/>
<rect x="423.4" y="601.2" width="18.9" height="16.6" fill="#98A639" stroke="#333" stroke-width="0.75"/>
<line x1="423.4" x2="442.3" y1="606.5" y2="606.5" stroke="#2A2A2A" stroke-width="1.35"/>
<path d="M357.0,575.7 V573.5 H407.6 V575.7" fill="none" stroke="#4A4A4A" stroke-width="0.5"/>
<text transform="translate(382.3,572.7) scale(1,1.18)" font-family='"Liberation Sans", sans-serif' font-size="7.3" fill="#222" text-anchor="middle">0.031</text>
<line x1="341.85" x2="341.85" y1="552.4" y2="639.0500000000001" stroke="#000" stroke-width="1.45"/>
<line x1="341.15000000000003" x2="448.0" y1="638.35" y2="638.35" stroke="#000" stroke-width="1.45"/>
<g font-family='"Liberation Sans", sans-serif' font-size="10.9" fill="#0A0A0A" text-anchor="end">
<line x1="339.55" x2="341.35" y1="619.6" y2="619.6" stroke="#111" stroke-width="0.8"/>
<text x="338.60" y="623.3">0.025</text>
<line x1="339.55" x2="341.35" y1="598.7" y2="598.7" stroke="#111" stroke-width="0.8"/>
<text x="338.60" y="602.4">0.050</text>
<line x1="339.55" x2="341.35" y1="577.8" y2="577.8" stroke="#111" stroke-width="0.8"/>
<text x="338.60" y="581.5">0.075</text>
<line x1="339.55" x2="341.35" y1="556.8" y2="556.8" stroke="#111" stroke-width="0.8"/>
<text x="338.60" y="560.5">0.100</text>
<line x1="357.00" x2="357.00" y1="638.85" y2="640.75" stroke="#111" stroke-width="0.8"/>
<text transform="translate(362.4,647.8) rotate(-45)">CD</text>
<line x1="382.30" x2="382.30" y1="638.85" y2="640.75" stroke="#111" stroke-width="0.8"/>
<text transform="translate(387.7,647.8) rotate(-45)">CV2</text>
<line x1="407.60" x2="407.60" y1="638.85" y2="640.75" stroke="#111" stroke-width="0.8"/>
<text transform="translate(413.0,647.8) rotate(-45)">CV14</text>
<line x1="432.90" x2="432.90" y1="638.85" y2="640.75" stroke="#111" stroke-width="0.8"/>
<text transform="translate(438.3,647.8) rotate(-45)">CV14w</text>
</g>
</g>
<g>
<text x="541.1" y="547.5" font-family='"Liberation Sans", sans-serif' font-style="italic" font-size="10.8" fill="#000" text-anchor="middle">Romboutsia</text>
<line x1="503.25" x2="503.25" y1="586.5" y2="592.0" stroke="#333" stroke-width="0.75"/>
<line x1="503.25" x2="503.25" y1="611.5" y2="631.4" stroke="#333" stroke-width="0.75"/>
<rect x="493.8" y="592.0" width="18.9" height="19.5" fill="#5F5A50" stroke="#333" stroke-width="0.75"/>
<line x1="493.8" x2="512.7" y1="598.6" y2="598.6" stroke="#2A2A2A" stroke-width="1.35"/>
<line x1="528.47" x2="528.47" y1="592.5" y2="608.6" stroke="#333" stroke-width="0.75"/>
<line x1="528.47" x2="528.47" y1="625.1" y2="635.6" stroke="#333" stroke-width="0.75"/>
<rect x="519.0" y="608.6" width="18.9" height="16.5" fill="#A5E09A" stroke="#333" stroke-width="0.75"/>
<line x1="519.0" x2="537.9" y1="621.2" y2="621.2" stroke="#2A2A2A" stroke-width="1.35"/>
<line x1="553.69" x2="553.69" y1="608.8" y2="611.5" stroke="#333" stroke-width="0.75"/>
<line x1="553.69" x2="553.69" y1="630.4" y2="635.6" stroke="#333" stroke-width="0.75"/>
<rect x="544.2" y="611.5" width="18.9" height="18.9" fill="#5BAE91" stroke="#333" stroke-width="0.75"/>
<line x1="544.2" x2="563.1" y1="618.0" y2="618.0" stroke="#2A2A2A" stroke-width="1.35"/>
<line x1="578.91" x2="578.91" y1="597.2" y2="605.0" stroke="#333" stroke-width="0.75"/>
<line x1="578.91" x2="578.91" y1="612.8" y2="612.8" stroke="#333" stroke-width="0.75"/>
<rect x="569.5" y="605.0" width="18.9" height="7.8" fill="#98A639" stroke="#333" stroke-width="0.75"/>
<line x1="569.5" x2="588.4" y1="609.2" y2="609.2" stroke="#2A2A2A" stroke-width="1.35"/>
<circle cx="578.91" cy="626.0" r="1.7" fill="#222"/>
<circle cx="578.91" cy="629.4" r="1.7" fill="#222"/>
<path d="M503.2,575.7 V573.5 H553.7 V575.7" fill="none" stroke="#4A4A4A" stroke-width="0.5"/>
<text transform="translate(528.5,572.7) scale(1,1.18)" font-family='"Liberation Sans", sans-serif' font-size="7.3" fill="#222" text-anchor="middle">0.008</text>
<line x1="488.0" x2="488.0" y1="552.4" y2="639.0500000000001" stroke="#000" stroke-width="1.45"/>
<line x1="487.3" x2="593.8" y1="638.35" y2="638.35" stroke="#000" stroke-width="1.45"/>
<g font-family='"Liberation Sans", sans-serif' font-size="10.9" fill="#0A0A0A" text-anchor="end">
<line x1="485.70" x2="487.50" y1="635.6" y2="635.6" stroke="#111" stroke-width="0.8"/>
<text x="484.20" y="639.3" font-size="10.7">0.0000</text>
<line x1="485.70" x2="487.50" y1="619.3" y2="619.3" stroke="#111" stroke-width="0.8"/>
<text x="484.20" y="623.0" font-size="10.7">0.0025</text>
<line x1="485.70" x2="487.50" y1="603.0" y2="603.0" stroke="#111" stroke-width="0.8"/>
<text x="484.20" y="606.7" font-size="10.7">0.0050</text>
<line x1="485.70" x2="487.50" y1="586.7" y2="586.7" stroke="#111" stroke-width="0.8"/>
<text x="484.20" y="590.4" font-size="10.7">0.0075</text>
<line x1="485.70" x2="487.50" y1="570.5" y2="570.5" stroke="#111" stroke-width="0.8"/>
<text x="484.20" y="574.2" font-size="10.7">0.0100</text>
<line x1="485.70" x2="487.50" y1="554.4" y2="554.4" stroke="#111" stroke-width="0.8"/>
<text x="484.20" y="558.1" font-size="10.7">0.0125</text>
<line x1="503.25" x2="503.25" y1="638.85" y2="640.75" stroke="#111" stroke-width="0.8"/>
<text transform="translate(508.6,647.8) rotate(-45)">CD</text>
<line x1="528.47" x2="528.47" y1="638.85" y2="640.75" stroke="#111" stroke-width="0.8"/>
<text transform="translate(533.9,647.8) rotate(-45)">CV2</text>
<line x1="553.69" x2="553.69" y1="638.85" y2="640.75" stroke="#111" stroke-width="0.8"/>
<text transform="translate(559.1,647.8) rotate(-45)">CV14</text>
<line x1="578.91" x2="578.91" y1="638.85" y2="640.75" stroke="#111" stroke-width="0.8"/>
<text transform="translate(584.3,647.8) rotate(-45)">CV14w</text>
</g>
</g>
<g>
<text x="114.6" y="688.9" font-family='"Liberation Sans", sans-serif' font-style="italic" font-size="10.8" fill="#000" text-anchor="middle">Terrisporobacter</text>
<line x1="76.50" x2="76.50" y1="715.0" y2="722.4" stroke="#333" stroke-width="0.75"/>
<line x1="76.50" x2="76.50" y1="750.5" y2="773.6" stroke="#333" stroke-width="0.75"/>
<rect x="67.0" y="722.4" width="18.9" height="28.1" fill="#5F5A50" stroke="#333" stroke-width="0.75"/>
<line x1="67.0" x2="86.0" y1="730.8" y2="730.8" stroke="#2A2A2A" stroke-width="1.35"/>
<line x1="101.75" x2="101.75" y1="725.0" y2="734.5" stroke="#333" stroke-width="0.75"/>
<line x1="101.75" x2="101.75" y1="760.5" y2="771.3" stroke="#333" stroke-width="0.75"/>
<rect x="92.3" y="734.5" width="18.9" height="26.0" fill="#A5E09A" stroke="#333" stroke-width="0.75"/>
<line x1="92.3" x2="111.2" y1="755.5" y2="755.5" stroke="#2A2A2A" stroke-width="1.35"/>
<line x1="127.00" x2="127.00" y1="732.1" y2="745.2" stroke="#333" stroke-width="0.75"/>
<line x1="127.00" x2="127.00" y1="764.4" y2="776.8" stroke="#333" stroke-width="0.75"/>
<rect x="117.5" y="745.2" width="18.9" height="19.2" fill="#5BAE91" stroke="#333" stroke-width="0.75"/>
<line x1="117.5" x2="136.4" y1="752.3" y2="752.3" stroke="#2A2A2A" stroke-width="1.35"/>
<line x1="152.25" x2="152.25" y1="715.3" y2="732.4" stroke="#333" stroke-width="0.75"/>
<line x1="152.25" x2="152.25" y1="750.5" y2="763.6" stroke="#333" stroke-width="0.75"/>
<rect x="142.8" y="732.4" width="18.9" height="18.1" fill="#98A639" stroke="#333" stroke-width="0.75"/>
<line x1="142.8" x2="161.7" y1="735.5" y2="735.5" stroke="#2A2A2A" stroke-width="1.35"/>
<line x1="61.3" x2="61.3" y1="693.5" y2="781.1" stroke="#000" stroke-width="1.45"/>
<line x1="60.599999999999994" x2="167.6" y1="780.4" y2="780.4" stroke="#000" stroke-width="1.45"/>
<g font-family='"Liberation Sans", sans-serif' font-size="10.9" fill="#0A0A0A" text-anchor="end">
<line x1="59.00" x2="60.80" y1="780.4" y2="780.4" stroke="#111" stroke-width="0.8"/>
<text x="57.90" y="784.1">0.00</text>
<line x1="59.00" x2="60.80" y1="748.4" y2="748.4" stroke="#111" stroke-width="0.8"/>
<text x="57.90" y="752.1">0.01</text>
<line x1="59.00" x2="60.80" y1="716.3" y2="716.3" stroke="#111" stroke-width="0.8"/>
<text x="57.90" y="720.0">0.02</text>
<line x1="76.50" x2="76.50" y1="780.9" y2="782.8" stroke="#111" stroke-width="0.8"/>
<text transform="translate(81.9,788.6) rotate(-45)">CD</text>
<line x1="101.75" x2="101.75" y1="780.9" y2="782.8" stroke="#111" stroke-width="0.8"/>
<text transform="translate(107.2,788.6) rotate(-45)">CV2</text>
<line x1="127.00" x2="127.00" y1="780.9" y2="782.8" stroke="#111" stroke-width="0.8"/>
<text transform="translate(132.4,788.6) rotate(-45)">CV14</text>
<line x1="152.25" x2="152.25" y1="780.9" y2="782.8" stroke="#111" stroke-width="0.8"/>
<text transform="translate(157.7,788.6) rotate(-45)">CV14w</text>
</g>
</g>
<g>
<text x="254.7" y="688.9" font-family='"Liberation Sans", sans-serif' font-style="italic" font-size="10.8" fill="#000" text-anchor="middle">Weissella</text>
<line x1="216.50" x2="216.50" y1="738.7" y2="746.2" stroke="#333" stroke-width="0.75"/>
<line x1="216.50" x2="216.50" y1="757.3" y2="767.3" stroke="#333" stroke-width="0.75"/>
<rect x="207.1" y="746.2" width="18.9" height="11.1" fill="#5F5A50" stroke="#333" stroke-width="0.75"/>
<line x1="207.1" x2="225.9" y1="752.5" y2="752.5" stroke="#2A2A2A" stroke-width="1.35"/>
<line x1="241.83" x2="241.83" y1="750.0" y2="755.5" stroke="#333" stroke-width="0.75"/>
<line x1="241.83" x2="241.83" y1="769.1" y2="773.6" stroke="#333" stroke-width="0.75"/>
<rect x="232.4" y="755.5" width="18.9" height="13.6" fill="#A5E09A" stroke="#333" stroke-width="0.75"/>
<line x1="232.4" x2="251.3" y1="764.4" y2="764.4" stroke="#2A2A2A" stroke-width="1.35"/>
<line x1="267.16" x2="267.16" y1="760.5" y2="764.2" stroke="#333" stroke-width="0.75"/>
<line x1="267.16" x2="267.16" y1="772.8" y2="777.0" stroke="#333" stroke-width="0.75"/>
<rect x="257.7" y="764.2" width="18.9" height="8.6" fill="#5BAE91" stroke="#333" stroke-width="0.75"/>
<line x1="257.7" x2="276.6" y1="767.6" y2="767.6" stroke="#2A2A2A" stroke-width="1.35"/>
<line x1="292.49" x2="292.49" y1="734.0" y2="747.1" stroke="#333" stroke-width="0.75"/>
<line x1="292.49" x2="292.49" y1="758.9" y2="772.6" stroke="#333" stroke-width="0.75"/>
<rect x="283.0" y="747.1" width="18.9" height="11.8" fill="#98A639" stroke="#333" stroke-width="0.75"/>
<line x1="283.0" x2="301.9" y1="754.7" y2="754.7" stroke="#2A2A2A" stroke-width="1.35"/>
<path d="M216.5,717.0 V714.8 H267.2 V717.0" fill="none" stroke="#4A4A4A" stroke-width="0.5"/>
<text transform="translate(241.8,714.0) scale(1,1.18)" font-family='"Liberation Sans", sans-serif' font-size="7.3" fill="#222" text-anchor="middle">&lt;0.001</text>
<line x1="201.25" x2="201.25" y1="693.5" y2="781.1" stroke="#000" stroke-width="1.45"/>
<line x1="200.55" x2="307.7" y1="780.4" y2="780.4" stroke="#000" stroke-width="1.45"/>
<g font-family='"Liberation Sans", sans-serif' font-size="10.9" fill="#0A0A0A" text-anchor="end">
<line x1="198.95" x2="200.75" y1="777.6" y2="777.6" stroke="#111" stroke-width="0.8"/>
<text x="198.15" y="781.3">0.000</text>
<line x1="198.95" x2="200.75" y1="759.7" y2="759.7" stroke="#111" stroke-width="0.8"/>
<text x="198.15" y="763.4">0.005</text>
<line x1="198.95" x2="200.75" y1="741.9" y2="741.9" stroke="#111" stroke-width="0.8"/>
<text x="198.15" y="745.6">0.010</text>
<line x1="198.95" x2="200.75" y1="724.1" y2="724.1" stroke="#111" stroke-width="0.8"/>
<text x="198.15" y="727.8">0.015</text>
<line x1="198.95" x2="200.75" y1="706.4" y2="706.4" stroke="#111" stroke-width="0.8"/>
<text x="198.15" y="710.1">0.020</text>
<line x1="216.50" x2="216.50" y1="780.9" y2="782.8" stroke="#111" stroke-width="0.8"/>
<text transform="translate(221.9,788.6) rotate(-45)">CD</text>
<line x1="241.83" x2="241.83" y1="780.9" y2="782.8" stroke="#111" stroke-width="0.8"/>
<text transform="translate(247.2,788.6) rotate(-45)">CV2</text>
<line x1="267.16" x2="267.16" y1="780.9" y2="782.8" stroke="#111" stroke-width="0.8"/>
<text transform="translate(272.6,788.6) rotate(-45)">CV14</text>
<line x1="292.49" x2="292.49" y1="780.9" y2="782.8" stroke="#111" stroke-width="0.8"/>
<text transform="translate(297.9,788.6) rotate(-45)">CV14w</text>
</g>
</g>
<g>
<text x="395.1" y="688.9" font-family='"Liberation Sans", sans-serif' font-style="italic" font-size="10.8" fill="#000" text-anchor="middle">Zoogloea</text>
<line x1="347.2" x2="366.8" y1="777.2" y2="777.2" stroke="#333" stroke-width="1.5"/>
<line x1="382.30" x2="382.30" y1="765.0" y2="771.3" stroke="#333" stroke-width="0.75"/>
<line x1="382.30" x2="382.30" y1="776.8" y2="777.0" stroke="#333" stroke-width="0.75"/>
<rect x="372.9" y="771.3" width="18.9" height="5.5" fill="#A5E09A" stroke="#333" stroke-width="0.75"/>
<line x1="372.9" x2="391.8" y1="775.5" y2="775.5" stroke="#2A2A2A" stroke-width="1.35"/>
<line x1="407.60" x2="407.60" y1="744.2" y2="760.0" stroke="#333" stroke-width="0.75"/>
<line x1="407.60" x2="407.60" y1="775.5" y2="777.0" stroke="#333" stroke-width="0.75"/>
<rect x="398.2" y="760.0" width="18.9" height="15.5" fill="#5BAE91" stroke="#333" stroke-width="0.75"/>
<line x1="398.2" x2="417.1" y1="775.2" y2="775.2" stroke="#2A2A2A" stroke-width="1.35"/>
<line x1="423.1" x2="442.6" y1="777.2" y2="777.2" stroke="#333" stroke-width="1.5"/>
<circle cx="382.30" cy="757.3" r="1.7" fill="#222"/>
<circle cx="407.60" cy="715.0" r="1.7" fill="#222"/>
<line x1="341.85" x2="341.85" y1="693.5" y2="781.1" stroke="#000" stroke-width="1.45"/>
<line x1="341.15000000000003" x2="448.0" y1="780.4" y2="780.4" stroke="#000" stroke-width="1.45"/>
<g font-family='"Liberation Sans", sans-serif' font-size="10.9" fill="#0A0A0A" text-anchor="end">
<line x1="339.55" x2="341.35" y1="777.6" y2="777.6" stroke="#111" stroke-width="0.8"/>
<text x="338.60" y="781.3">0.00</text>
<line x1="339.55" x2="341.35" y1="752.6" y2="752.6" stroke="#111" stroke-width="0.8"/>
<text x="338.60" y="756.3">0.02</text>
<line x1="339.55" x2="341.35" y1="727.7" y2="727.7" stroke="#111" stroke-width="0.8"/>
<text x="338.60" y="731.4">0.04</text>
<line x1="339.55" x2="341.35" y1="702.9" y2="702.9" stroke="#111" stroke-width="0.8"/>
<text x="338.60" y="706.6">0.06</text>
<line x1="357.00" x2="357.00" y1="780.9" y2="782.8" stroke="#111" stroke-width="0.8"/>
<text transform="translate(362.4,788.6) rotate(-45)">CD</text>
<line x1="382.30" x2="382.30" y1="780.9" y2="782.8" stroke="#111" stroke-width="0.8"/>
<text transform="translate(387.7,788.6) rotate(-45)">CV2</text>
<line x1="407.60" x2="407.60" y1="780.9" y2="782.8" stroke="#111" stroke-width="0.8"/>
<text transform="translate(413.0,788.6) rotate(-45)">CV14</text>
<line x1="432.90" x2="432.90" y1="780.9" y2="782.8" stroke="#111" stroke-width="0.8"/>
<text transform="translate(438.3,788.6) rotate(-45)">CV14w</text>
</g>
</g>
</g>
</svg>
</body>
</html>
